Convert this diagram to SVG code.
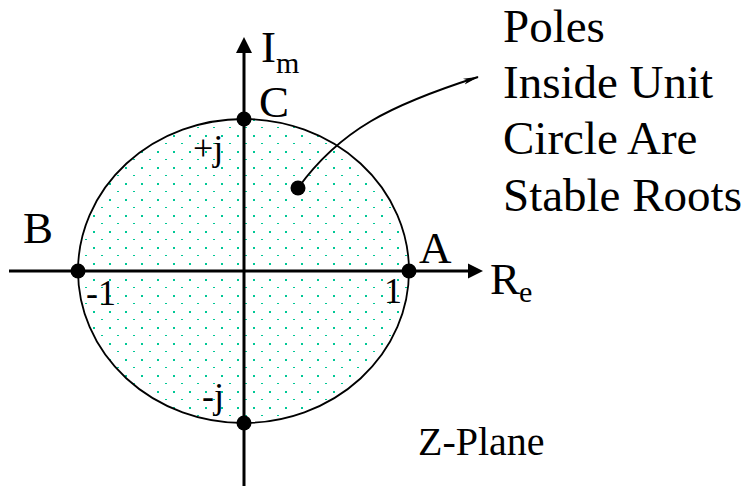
<svg xmlns="http://www.w3.org/2000/svg" width="750" height="486" viewBox="0 0 750 486">
  <defs>
    <pattern id="dots" patternUnits="userSpaceOnUse" x="0" y="0" width="16" height="16">
      <rect x="13" y="7" width="2" height="2" fill="#00c896"/>
      <rect x="5" y="15" width="2" height="2" fill="#00c896"/>
    </pattern>
    <marker id="thin" viewBox="0 0 16 8" refX="15" refY="4" markerWidth="16" markerHeight="8" markerUnits="userSpaceOnUse" orient="auto">
      <path d="M0,1 L16,4 L0,7 L4,4 Z" fill="#000"/>
    </marker>
  </defs>
  <style>
    text { font-family: "Liberation Serif", "Times New Roman", serif; fill: #000; }
    .big { font-size: 45px; }
    .sub { font-size: 30px; }
    .num { font-size: 36px; }
    .note { font-size: 47px; }
    .axis { stroke: #000; stroke-width: 3; fill: none; }
    .pt { fill: #000; }
  </style>

  <g id="unit-circle">
    <ellipse cx="243.5" cy="271" rx="165.5" ry="152" fill="url(#dots)" stroke="#000" stroke-width="1.8"/>
  </g>

  <g id="connectors">
    <line class="axis" x1="9" y1="271" x2="470" y2="271"/>
    <polygon points="468,263.5 483,271 468,278.5" fill="#000"/>
    <line class="axis" x1="244" y1="486" x2="244" y2="52"/>
    <polygon points="236,53 244,37 252,53" fill="#000"/>
    <path d="M298,188 C340,130 390,105 478,77" fill="none" stroke="#000" stroke-width="2" marker-end="url(#thin)"/>
  </g>

  <g id="axis-labels">
    <text class="big" x="261" y="62">I</text>
    <text class="sub" x="276" y="73">m</text>
    <text class="big" x="490" y="294">R</text>
    <text class="sub" x="519" y="302">e</text>
  </g>

  <g id="point-C">
    <circle class="pt" cx="244" cy="119" r="7.5"/>
    <text class="big" x="259" y="117">C</text>
  </g>
  <g id="point-B">
    <circle class="pt" cx="78" cy="271" r="7.5"/>
    <text class="big" x="23" y="243">B</text>
  </g>
  <g id="point-A">
    <circle class="pt" cx="409" cy="271" r="7.5"/>
    <text class="big" x="419" y="263">A</text>
  </g>
  <g id="point-bottom">
    <circle class="pt" cx="244" cy="423" r="7.5"/>
  </g>
  <g id="pole">
    <circle class="pt" cx="298" cy="188" r="7.5"/>
  </g>

  <g id="tick-labels">
    <text class="num" x="193" y="160">+j</text>
    <text class="num" x="86" y="305">-1</text>
    <text class="num" x="384" y="303">1</text>
    <text class="num" x="202" y="408">-j</text>
  </g>

  <g id="note">
    <text class="note" x="503" y="42">Poles</text>
    <text class="note" x="503" y="98">Inside Unit</text>
    <text class="note" x="503" y="154">Circle Are</text>
    <text class="note" x="503" y="211">Stable Roots</text>
  </g>

  <g id="plane-label">
    <text class="note" style="font-size:40px" x="418" y="455">Z-Plane</text>
  </g>
</svg>
